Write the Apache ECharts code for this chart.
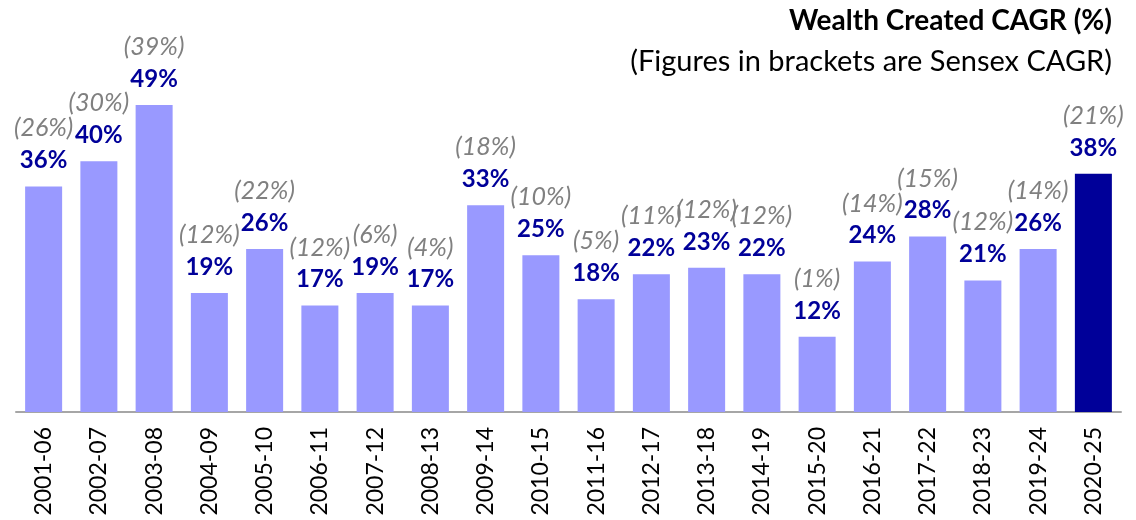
<!DOCTYPE html>
<html>
<head>
<meta charset="utf-8">
<script src="https://cdn.jsdelivr.net/npm/echarts@6/dist/echarts.min.js"></script>
<style>
  html, body { margin: 0; padding: 0; background: #fff; }
  #chart { width: 1136px; height: 520px; }
</style>
</head>
<body>
<div id="chart"></div>
<script>
// Rolling five-year periods
const periods = ['2001-06','2002-07','2003-08','2004-09','2005-10','2006-11','2007-12','2008-13','2009-14','2010-15',
                 '2011-16','2012-17','2013-18','2014-19','2015-20','2016-21','2017-22','2018-23','2019-24','2020-25'];
// Wealth created CAGR (%)
const wealthCagr = [36, 40, 49, 19, 26, 17, 19, 17, 33, 25, 18, 22, 23, 22, 12, 24, 28, 21, 26, 38];
// Sensex CAGR (%) over the same periods
const sensexCagr = [26, 30, 39, 12, 22, 12, 6, 4, 18, 10, 5, 11, 12, 12, 1, 14, 15, 12, 14, 21];

const titleText = 'Wealth Created CAGR (%)';
const subtitleText = '(Figures in brackets are Sensex CAGR)';

const FONT = 'Lato, "Open Sans", sans-serif';
const lastIdx = periods.length - 1;

const chart = echarts.init(document.getElementById('chart'), null, { renderer: 'canvas' });

chart.setOption({
  animation: false,
  graphic: [
    {
      type: 'text', right: 24, top: 7,
      style: { text: titleText, font: 'bold 28px ' + FONT, fill: '#000', textAlign: 'right' }
    },
    {
      type: 'text', right: 24, top: 47,
      style: { text: subtitleText, font: '29px ' + FONT, fill: '#000', textAlign: 'right' }
    }
  ],
  grid: { left: 16, right: 15, top: 36, bottom: 108, containLabel: false },
  xAxis: {
    type: 'category',
    data: periods,
    axisTick: { show: false },
    axisLine: { lineStyle: { color: '#A6A6A6', width: 2 } },
    axisLabel: {
      rotate: 90, margin: 15, interval: 0,
      fontFamily: FONT, fontSize: 23, color: '#000'
    }
  },
  yAxis: {
    type: 'value', min: 0, max: 60,
    show: false,
    splitLine: { show: false }
  },
  series: [{
    type: 'bar',
    barWidth: 37,
    data: wealthCagr.map((v, i) => ({
      value: v,
      itemStyle: { color: i === lastIdx ? '#000099' : '#9999FF' }
    })),
    label: {
      show: true,
      position: 'top',
      distance: 14,
      formatter: p => '{s|(' + sensexCagr[p.dataIndex] + '%)}\n{v|' + p.value + '%}',
      rich: {
        s: { fontFamily: FONT, fontStyle: 'italic', fontSize: 25, color: '#808080', lineHeight: 40, align: 'center' },
        v: { fontFamily: FONT, fontWeight: 'bold', fontSize: 24, color: '#000099', lineHeight: 24, align: 'center' }
      }
    }
  }]
});
</script>
</body>
</html>
